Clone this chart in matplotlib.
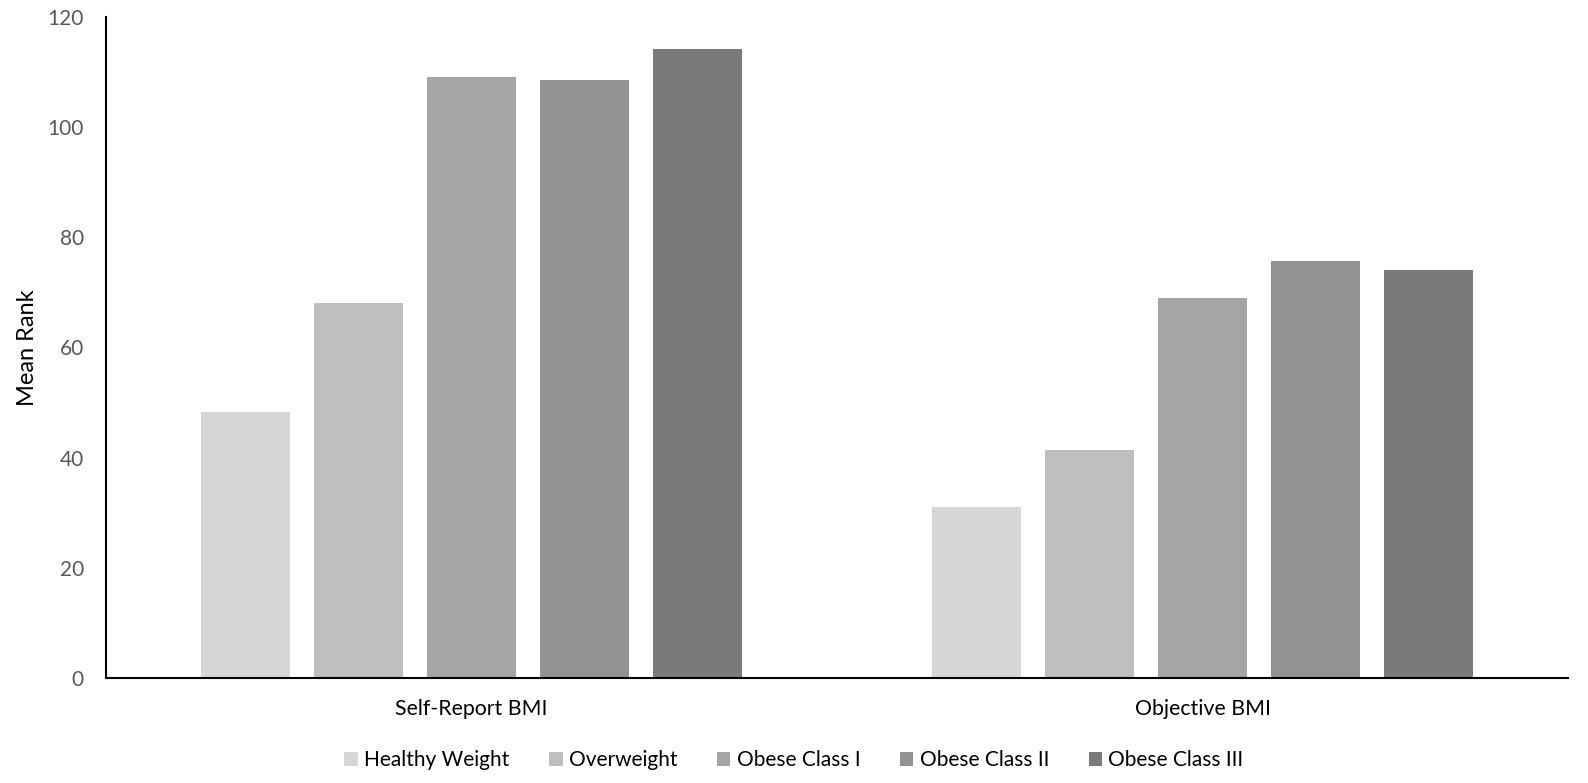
import matplotlib
matplotlib.use("Agg")
import matplotlib.pyplot as plt
import numpy as np

plt.rcParams['font.family'] = ['Lato', 'DejaVu Sans']

categories = ["Self-Report BMI", "Objective BMI"]
series = ["Healthy Weight", "Overweight", "Obese Class I", "Obese Class II", "Obese Class III"]
healthy = [48.3, 31.0]
overweight = [68.1, 41.4]
obese1 = [109.1, 69.0]
obese2 = [108.6, 75.7]
obese3 = [114.2, 74.1]
values = [healthy, overweight, obese1, obese2, obese3]
colors = ["#D6D6D6", "#BFBFBF", "#A5A5A5", "#939393", "#7A7A7A"]
yticks = [0, 20, 40, 60, 80, 100, 120]

fig = plt.figure(figsize=(15.88, 7.83), dpi=100)
ax = fig.add_axes([0.0668, 0.1341, 0.9206, 0.8442])

x = np.arange(len(categories))
width = 0.1217
step = 0.1546
for i, (name, vals, c) in enumerate(zip(series, values, colors)):
    ax.bar(x + (i - 2) * step, vals, width=width, color=c, label=name, zorder=2)

ax.set_xlim(-0.5, 1.5)
ax.set_ylim(0, 120)
ax.set_yticks(yticks)
ax.set_xticks(x)
ax.set_xticklabels(categories)
ax.tick_params(axis='both', length=0, labelcolor='#595959')
ax.tick_params(axis='x', pad=15, labelsize=15.3, labelcolor='#000000')
ax.tick_params(axis='y', pad=16, labelsize=15)
for s in ['top', 'right']:
    ax.spines[s].set_visible(False)
for s in ['left', 'bottom']:
    ax.spines[s].set_color('black')
    ax.spines[s].set_linewidth(1.5)
ax.set_ylabel("Mean Rank", fontsize=17, labelpad=7)

leg = fig.legend(loc='center', bbox_to_anchor=(0.5, 0.029), ncol=5, frameon=False,
                 fontsize=15, handlelength=0.65, handleheight=0.65, handletextpad=0.3,
                 columnspacing=1.9)

fig.savefig("out.png", dpi=100)
